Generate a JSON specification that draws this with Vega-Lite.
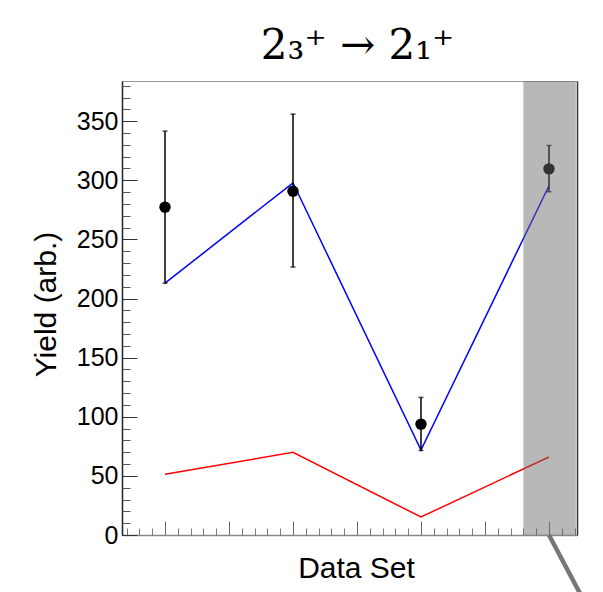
{
  "$schema": "https://vega.github.io/schema/vega-lite/v6.json",
  "autosize": {"type": "none"},
  "width": 455,
  "height": 454,
  "padding": {"left": 122, "top": 81, "right": 26, "bottom": 57},
  "background": "white",
  "config": {
    "view": {"stroke": "#999999", "strokeWidth": 1},
    "font": "Liberation Sans"
  },
  "title": {
    "text": "2₃⁺ → 2₁⁺",
    "font": "DejaVu Serif",
    "fontSize": 42,
    "fontWeight": "normal",
    "color": "black",
    "baseline": "bottom",
    "frame": "group",
    "offset": -29,
    "anchor": "middle",
    "dx": 8
  },
  "datasets": {
    "sets": [
      {"set": 1, "yield": 277.3, "lo": 213.0, "hi": 341.6, "model": 213.0, "background": 51.3},
      {"set": 2, "yield": 290.8, "lo": 226.6, "hi": 356.0, "model": 297.9, "background": 69.9},
      {"set": 3, "yield": 93.8, "lo": 71.5, "hi": 116.4, "model": 71.9, "background": 15.2},
      {"set": 4, "yield": 309.7, "lo": 290.3, "hi": 329.5, "model": 295.4, "background": 66.0}
    ],
    "band": [{"from": 3.8, "to": 4.21}],
    "pointer": [{"x": 4.0, "y": 0, "xEnd": 4.27, "yEnd": -55}]
  },
  "resolve": {"axis": {"x": "independent", "y": "independent"}},
  "layer": [
    {
      "data": {"name": "sets"},
      "mark": {"type": "line", "color": "#ff0000", "strokeWidth": 1.5},
      "encoding": {
        "x": {
          "field": "set", "type": "quantitative",
          "scale": {"domain": [0.664, 4.219], "nice": false, "zero": false},
          "axis": {
            "orient": "bottom",
            "values": [1, 1.5, 2, 2.5, 3, 3.5, 4],
            "tickSize": -14, "tickColor": "#666666", "tickWidth": 1,
            "labels": false, "grid": false,
            "domainColor": "#888888", "domainWidth": 1.5,
            "title": "Data Set", "titleFontSize": 30, "titleFontWeight": "normal",
            "titleColor": "black", "titleFont": "Liberation Sans",
            "titleX": 234, "titleY": 42, "titleBaseline": "alphabetic", "titleAlign": "center"
          }
        },
        "y": {
          "field": "background", "type": "quantitative",
          "scale": {"domain": [0, 384], "nice": false, "zero": false},
          "axis": {
            "orient": "left",
            "values": [0, 50, 100, 150, 200, 250, 300, 350],
            "tickSize": -15, "tickColor": "#333333", "tickWidth": 1,
            "labelFontSize": 25, "labelColor": "black", "labelPadding": 19, "labelFont": "Liberation Sans",
            "grid": false, "domainColor": "#222222", "domainWidth": 1.5,
            "title": "Yield (arb.)", "titleFontSize": 30, "titleFontWeight": "normal",
            "titleColor": "black", "titleFont": "Liberation Sans",
            "titleX": -67, "titleY": 223, "titleBaseline": "alphabetic", "titleAlign": "center", "titleAngle": -90
          }
        }
      }
    },
    {
      "data": {"name": "sets"},
      "mark": {"type": "line", "color": "#0000ff", "strokeWidth": 1.5},
      "encoding": {
        "x": {
          "field": "set", "type": "quantitative",
          "axis": {
            "orient": "bottom",
            "values": [0.7, 0.8, 0.9, 1.1, 1.2, 1.3, 1.4, 1.6, 1.7, 1.8, 1.9, 2.1, 2.2, 2.3, 2.4, 2.6, 2.7, 2.8, 2.9, 3.1, 3.2, 3.3, 3.4, 3.6, 3.7, 3.8, 3.9, 4.1, 4.2],
            "tickSize": -7, "tickColor": "#777777", "tickWidth": 1,
            "labels": false, "domain": false, "grid": false, "title": null
          }
        },
        "y": {
          "field": "model", "type": "quantitative",
          "axis": {
            "orient": "left",
            "values": [10, 20, 30, 40, 60, 70, 80, 90, 110, 120, 130, 140, 160, 170, 180, 190, 210, 220, 230, 240, 260, 270, 280, 290, 310, 320, 330, 340, 360, 370, 380],
            "tickSize": -8, "tickColor": "#555555", "tickWidth": 1,
            "labels": false, "domain": false, "grid": false, "title": null
          }
        }
      }
    },
    {
      "data": {"name": "sets"},
      "mark": {"type": "rule", "color": "black", "strokeWidth": 1.5},
      "encoding": {
        "x": {"field": "set", "type": "quantitative", "axis": null},
        "y": {
          "field": "lo", "type": "quantitative",
          "axis": {
            "orient": "right", "ticks": false, "labels": false, "grid": false,
            "domainColor": "#333333", "domainWidth": 1.5, "title": null
          }
        },
        "y2": {"field": "hi"}
      }
    },
    {
      "data": {"name": "sets"},
      "mark": {"type": "tick", "color": "black", "orient": "horizontal", "size": 5, "thickness": 1.5},
      "encoding": {
        "x": {"field": "set", "type": "quantitative", "axis": null},
        "y": {"field": "hi", "type": "quantitative", "axis": null}
      }
    },
    {
      "data": {"name": "sets"},
      "mark": {"type": "tick", "color": "black", "orient": "horizontal", "size": 5, "thickness": 1.5},
      "encoding": {
        "x": {"field": "set", "type": "quantitative", "axis": null},
        "y": {"field": "lo", "type": "quantitative", "axis": null}
      }
    },
    {
      "data": {"name": "sets"},
      "mark": {"type": "point", "filled": true, "color": "black", "opacity": 1, "size": 130},
      "encoding": {
        "x": {"field": "set", "type": "quantitative", "axis": null},
        "y": {"field": "yield", "type": "quantitative", "axis": null}
      }
    },
    {
      "data": {"name": "band"},
      "mark": {"type": "rect", "color": "#6b6b6b", "opacity": 0.48},
      "encoding": {
        "x": {"field": "from", "type": "quantitative", "axis": null},
        "x2": {"field": "to"}
      }
    },
    {
      "data": {"name": "pointer"},
      "mark": {"type": "rule", "color": "#777777", "strokeWidth": 4.5, "clip": false},
      "encoding": {
        "x": {"field": "x", "type": "quantitative", "axis": null},
        "y": {"field": "y", "type": "quantitative", "axis": null},
        "x2": {"field": "xEnd"},
        "y2": {"field": "yEnd"}
      }
    }
  ]
}
